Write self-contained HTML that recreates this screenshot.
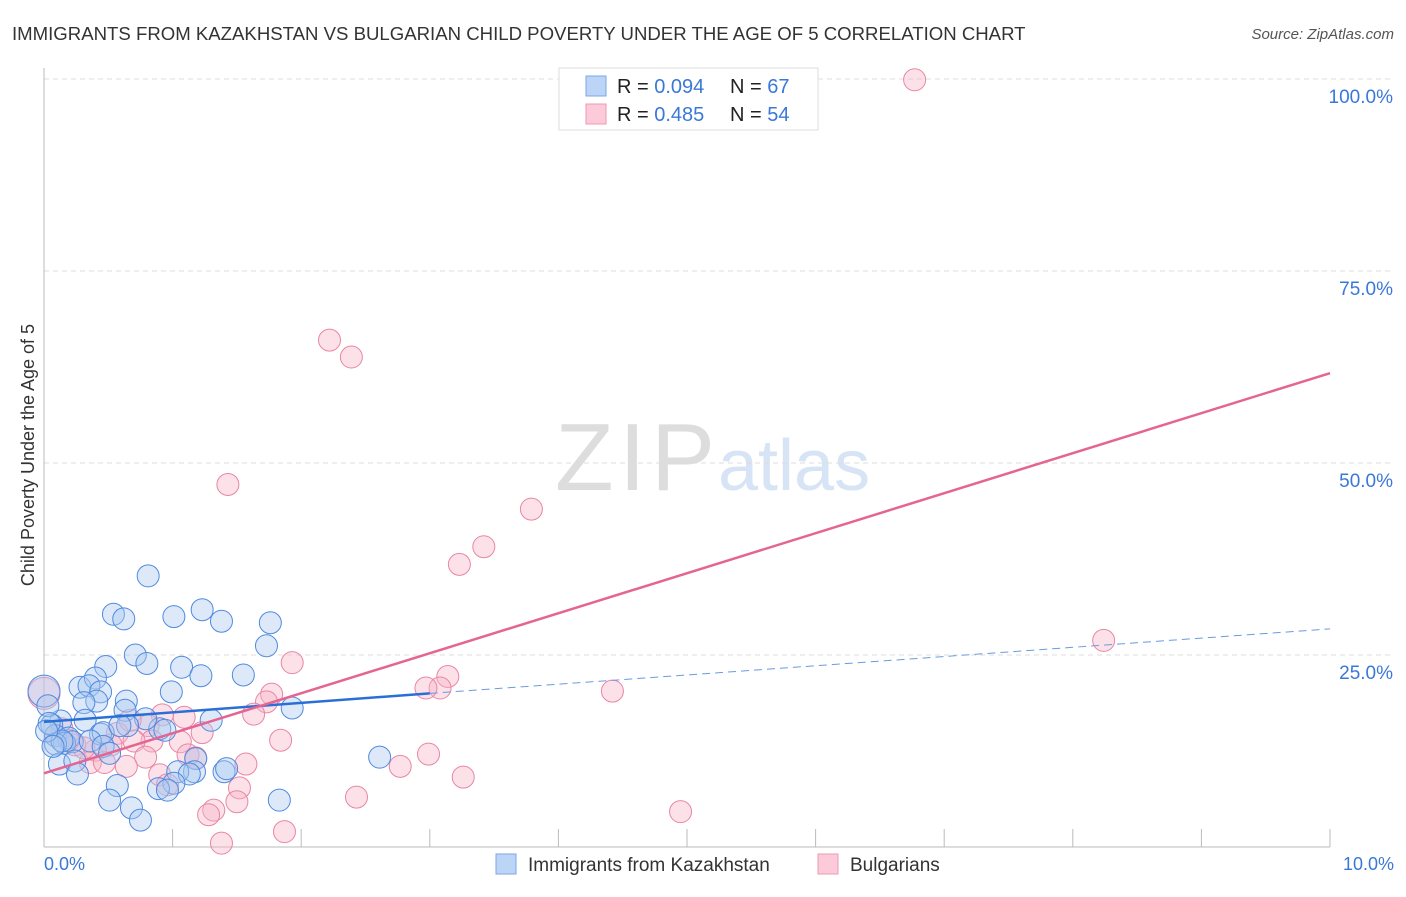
<!DOCTYPE html>
<html><head><meta charset="utf-8"><style>
body{margin:0;background:#fff;font-family:"Liberation Sans",sans-serif}
svg text{font-family:"Liberation Sans",sans-serif}
</style></head><body>
<svg id="chart" width="1406" height="892" xmlns="http://www.w3.org/2000/svg">
<text x="12" y="40" font-size="18.6" fill="#333">IMMIGRANTS FROM KAZAKHSTAN VS BULGARIAN CHILD POVERTY UNDER THE AGE OF 5 CORRELATION CHART</text>
<text x="1394" y="39" font-size="15" fill="#555" text-anchor="end" font-style="italic">Source: ZipAtlas.com</text>
<text x="715" y="490" font-size="96" fill="#ddd" text-anchor="end" font-family="Liberation Serif" textLength="160">ZIP</text>
<text x="718" y="490" font-size="72" fill="#d6e4f5">atlas</text>
<g id="grid"></g>
<g id="axes"></g>
<g id="pts"></g>
<g id="lines"></g>
<text transform="translate(34,455) rotate(-90)" font-size="18" fill="#333" text-anchor="middle">Child Poverty Under the Age of 5</text>
<g>
<rect x="559" y="68" width="259" height="62" fill="#fff" stroke="#ddd"/>
<rect x="586" y="76" width="20" height="20" fill="#bcd4f5" stroke="#7aa7e8"/>
<rect x="586" y="104" width="20" height="20" fill="#fccad8" stroke="#ee9ab4"/>
<text x="617" y="93" font-size="20" fill="#222">R = <tspan fill="#3a78d8">0.094</tspan></text>
<text x="730" y="93" font-size="20" fill="#222">N = <tspan fill="#3a78d8">67</tspan></text>
<text x="617" y="121" font-size="20" fill="#222">R = <tspan fill="#3a78d8">0.485</tspan></text>
<text x="730" y="121" font-size="20" fill="#222">N = <tspan fill="#3a78d8">54</tspan></text>
</g>
<g>
<rect x="496" y="854" width="20" height="20" fill="#bcd4f5" stroke="#7aa7e8"/>
<text x="528" y="871" font-size="19" fill="#333">Immigrants from Kazakhstan</text>
<rect x="818" y="854" width="20" height="20" fill="#fccad8" stroke="#ee9ab4"/>
<text x="850" y="871" font-size="19" fill="#333">Bulgarians</text>
</g>
</svg>
<script>
const blueX=[0.81,0.54,0.62,1.01,1.23,1.38,1.76,1.73,0.48,0.71,0.80,1.07,1.22,1.55,0.28,0.40,0.35,0.44,0.99,0.41,0.64,0.31,0.63,0.90,1.30,1.93,0.32,0.79,0.65,0.13,0.06,0.09,0.44,0.46,0.94,0.59,0.19,0.16,0.22,0.36,0.09,0.12,0.24,0.26,0.46,0.51,1.18,1.17,1.04,1.13,1.40,1.42,1.01,0.89,0.96,0.57,0.51,0.68,0.75,1.83,2.61,0.0,0.03,0.04,0.14,0.02,0.07];
const blueY=[35.3,30.3,29.7,30.0,30.9,29.4,29.2,26.2,23.5,25.0,23.9,23.4,22.3,22.4,20.8,22.0,21.0,20.2,20.2,19.0,19.0,18.8,17.8,15.4,16.5,18.1,16.5,16.7,15.8,16.4,15.9,14.5,14.7,14.9,15.2,15.8,14.2,13.5,13.7,13.8,13.4,10.8,11.2,9.5,13.1,12.2,11.5,9.8,9.8,9.5,9.8,10.2,8.3,7.6,7.4,8.0,6.1,5.1,3.5,6.1,11.7,20.3,18.4,16.1,13.8,15.1,13.1];
const pinkX=[6.77,2.22,2.39,1.43,3.79,3.42,3.23,8.24,1.93,3.14,3.08,2.97,4.42,1.77,1.73,1.63,1.09,0.92,0.81,1.23,0.57,0.84,0.70,0.52,1.06,0.40,1.84,2.99,1.12,1.18,0.79,0.64,0.36,0.47,1.57,2.77,3.26,0.90,0.96,1.52,1.50,2.43,1.32,1.28,4.95,1.87,1.38,0.0,0.24,0.19,0.31,0.67,0.09,0.14];
const pinkY=[99.9,66.0,63.8,47.2,44.0,39.1,36.8,26.9,24.0,22.2,20.7,20.7,20.3,19.9,18.9,17.3,16.9,17.2,15.8,14.9,14.8,13.8,13.8,13.3,13.7,12.6,13.9,12.1,12.0,11.6,11.7,10.5,11.0,11.0,10.8,10.5,9.1,9.4,8.1,7.7,5.9,6.5,4.8,4.2,4.6,2.0,0.5,20.0,13.3,13.9,12.9,16.5,14.5,15.4];
const yTicks=[25,50,75,100];
const blueLine=[[0,16.3],[3,20.0],[10,28.4]];
const pinkLine=[[0,9.6],[10,61.7]];
const sx=v=>44+v*128.6, sy=v=>847-v*7.68;
const NS="http://www.w3.org/2000/svg";
function mk(t,a,p){const e=document.createElementNS(NS,t);for(const k in a)e.setAttribute(k,a[k]);p.appendChild(e);return e;}
const grid=document.getElementById('grid'),axes=document.getElementById('axes'),pts=document.getElementById('pts'),lines=document.getElementById('lines');
yTicks.forEach(t=>{
 const l=mk('line',{x1:44,x2:1394,y1:sy(t),y2:sy(t),stroke:'#ddd','stroke-dasharray':'5,4'},grid);
 
 
 const tx=mk('text',{x:1393,y:sy(t)+24,'font-size':19,fill:'#3a78d8','text-anchor':'end'},axes);
 tx.textContent=t.toFixed(1)+'%';
 
 
});
mk('line',{x1:44,x2:44,y1:68,y2:847,stroke:'#bbb'},axes);
mk('line',{x1:44,x2:1330,y1:847,y2:847,stroke:'#bbb'},axes);
for(let i=1;i<=10;i++){const t=mk('line',{x1:sx(i),x2:sx(i),y1:829,y2:847,stroke:'#bbb'},axes);}
const x0=mk('text',{x:44,y:870,'font-size':18,fill:'#3a78d8'},axes);x0.textContent='0.0%';


const x1=mk('text',{x:1394,y:870,'font-size':18,fill:'#3a78d8','text-anchor':'end'},axes);x1.textContent='10.0%';


function dots(X,Y,fill,stroke,name){X.forEach((x,i)=>{const r=(i===X.length-7&&name==='bulgarian-point')||(name==='kazakhstan-point'&&i===61)?16:11;
 const c=mk('circle',{cx:sx(x),cy:sy(Y[i]),r:r,fill:fill,'fill-opacity':0.4,stroke:stroke,'stroke-width':1},pts);
 
 });}
dots(pinkX,pinkY,'#f7b3c7','#e986a6','bulgarian-point');
dots(blueX,blueY,'#a9c8f0','#4f8ae0','kazakhstan-point');
const b1=mk('line',{x1:sx(blueLine[0][0]),y1:sy(blueLine[0][1]),x2:sx(blueLine[1][0]),y2:sy(blueLine[1][1]),stroke:'#2a6fd6','stroke-width':2.5},lines);


const b2=mk('line',{x1:sx(blueLine[1][0]),y1:sy(blueLine[1][1]),x2:sx(blueLine[2][0]),y2:sy(blueLine[2][1]),stroke:'#6a9ae0','stroke-width':1,'stroke-dasharray':'8,5'},lines);


const p1=mk('line',{x1:sx(pinkLine[0][0]),y1:sy(pinkLine[0][1]),x2:sx(pinkLine[1][0]),y2:sy(pinkLine[1][1]),stroke:'#e46592','stroke-width':2.5},lines);


</script>
</body></html>
